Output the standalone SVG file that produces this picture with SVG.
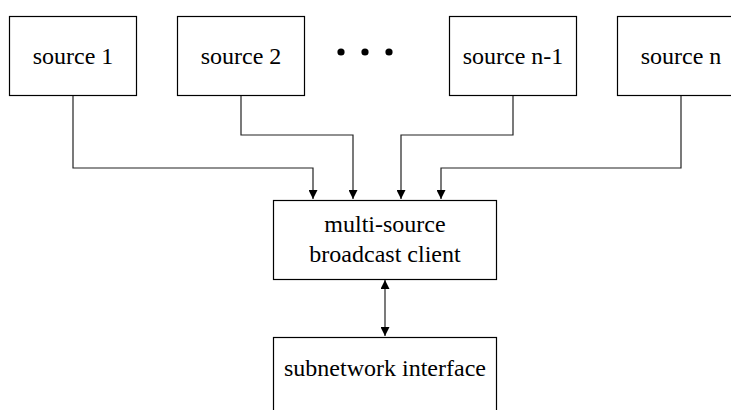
<svg xmlns="http://www.w3.org/2000/svg" width="731" height="410" viewBox="0 0 731 410">
<style>
.box{fill:#fff;stroke:#000;stroke-width:1.2}
.t{font-family:"Liberation Serif","Times New Roman",serif;font-size:24px;fill:#000;text-anchor:middle}
.c{fill:none;stroke:#222;stroke-width:1.2}
</style>
<defs>
<marker id="ah" viewBox="0 0 10 10" refX="10" refY="5" markerWidth="9" markerHeight="9" markerUnits="userSpaceOnUse" orient="auto-start-reverse">
<path d="M0,0 L10,5 L0,10 z" fill="#000"/>
</marker>
</defs>
<rect width="731" height="410" fill="#fff"/>
<g id="connectors">
<path class="c" d="M73,95 V168 H313 V199" marker-end="url(#ah)"/>
<path class="c" d="M241,95 V135 H353 V199" marker-end="url(#ah)"/>
<path class="c" d="M513,95 V135 H401 V199" marker-end="url(#ah)"/>
<path class="c" d="M681,95 V168 H441 V199" marker-end="url(#ah)"/>
<path class="c" d="M385,280 V336" marker-start="url(#ah)" marker-end="url(#ah)"/>
</g>
<g id="source1"><rect class="box" x="9.5" y="16.5" width="127" height="79"/><text class="t" x="73" y="64">source 1</text></g>
<g id="source2"><rect class="box" x="177.5" y="16.5" width="127" height="79"/><text class="t" x="241" y="64">source 2</text></g>
<g id="dots" fill="#000"><circle cx="341" cy="52" r="3.6"/><circle cx="365" cy="52" r="3.6"/><circle cx="389" cy="52" r="3.6"/></g>
<g id="sourcen1"><rect class="box" x="449.5" y="16.5" width="127" height="79"/><text class="t" x="513" y="64">source n-1</text></g>
<g id="sourcen"><rect class="box" x="617.5" y="16.5" width="127" height="79"/><text class="t" x="681" y="64">source n</text></g>
<g id="client"><rect class="box" x="273.5" y="200.5" width="223" height="79"/><text class="t" x="385" y="232">multi-source</text><text class="t" x="385" y="262">broadcast client</text></g>
<g id="subnet"><rect class="box" x="273.5" y="337.5" width="223" height="79"/><text class="t" x="385" y="376">subnetwork interface</text></g>
</svg>
